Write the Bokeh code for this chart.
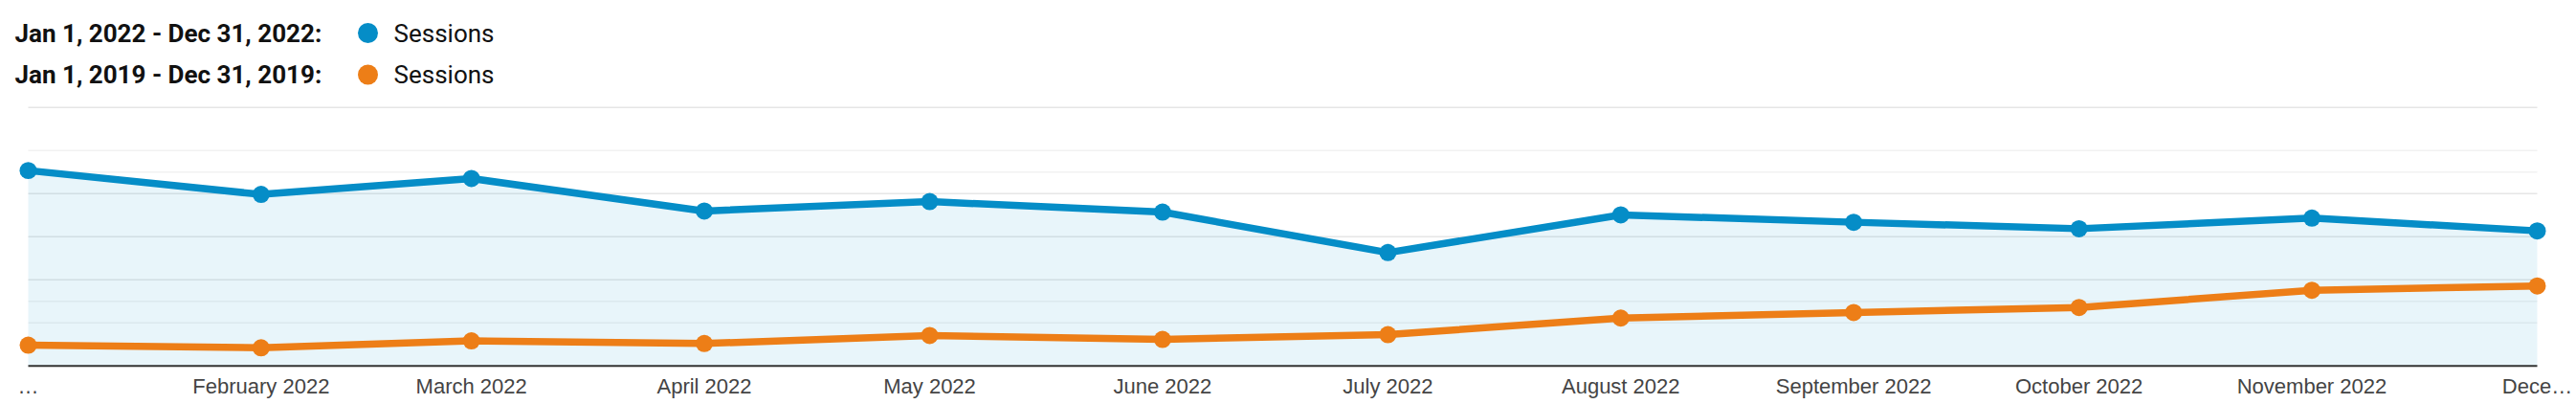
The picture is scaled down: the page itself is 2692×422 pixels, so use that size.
from datetime import datetime
from bokeh.plotting import figure
from bokeh.models import Range1d, FixedTicker, CustomJSTickFormatter
from bokeh.core.properties import value
from bokeh.embed import file_html
from bokeh.resources import INLINE

# ---------------- data ----------------
months = ["2022-01-01", "2022-02-01", "2022-03-01", "2022-04-01", "2022-05-01", "2022-06-01",
          "2022-07-01", "2022-08-01", "2022-09-01", "2022-10-01", "2022-11-01", "2022-12-01"]
tick_labels = ["\u2026", "February 2022", "March 2022", "April 2022", "May 2022", "June 2022",
               "July 2022", "August 2022", "September 2022", "October 2022", "November 2022",
               "Dece\u2026"]
sessions_2022 = [907, 796, 870, 719, 763, 714, 526, 701, 667, 637, 686, 627]
sessions_2019 = [96, 84, 116, 104, 141, 123, 145, 222, 248, 271, 351, 371]
grid_major = [400, 600, 800, 1200]
grid_minor = [200, 300, 900, 1000]
legend_ranges = ["Jan 1, 2022 - Dec 31, 2022:", "Jan 1, 2019 - Dec 31, 2019:"]
legend_metric = ["Sessions", "Sessions"]

BLUE = "#058dc7"
ORANGE = "#ed7e17"

EPOCH = datetime(1970, 1, 1)
x = [(datetime.strptime(m, "%Y-%m-%d") - EPOCH).total_seconds() * 1000.0 for m in months]

# ---------------- layout geometry ----------------
FW, FH = 2692, 384          # frame size
X_FIRST_PX, X_LAST_PX = 29, 2651
BASE_PX = 381.7             # y=0 pixel (from top of frame)
TOP_PX = 111.7              # y=1200 pixel
px_per_ms = (X_LAST_PX - X_FIRST_PX) / (x[-1] - x[0])
units_per_px = 1200.0 / (BASE_PX - TOP_PX)

x_start = x[0] - X_FIRST_PX / px_per_ms
x_end = x[-1] + (FW - X_LAST_PX) / px_per_ms
y_start = -(FH - BASE_PX) * units_per_px
y_end = BASE_PX * units_per_px


def px2x(px):
    return x_start + px / px_per_ms


def py2y(py):
    return (BASE_PX - py) * units_per_px


p = figure(frame_width=FW, frame_height=FH, x_axis_type="datetime",
           x_range=Range1d(x_start, x_end), y_range=Range1d(y_start, y_end),
           output_backend="svg", toolbar_location=None, min_border=0,
           min_border_left=0, min_border_right=0, min_border_top=0, min_border_bottom=0,
           outline_line_color=None, background_fill_color="white", border_fill_color="white")

p.yaxis.visible = False
p.grid.visible = False

ax = p.xaxis[0]
ax.ticker = FixedTicker(ticks=x)
ax.formatter = CustomJSTickFormatter(args=dict(labels=tick_labels), code="return labels[index];")
ax.axis_line_color = None
ax.major_tick_line_color = None
ax.minor_tick_line_color = None
ax.major_tick_out = 0
ax.major_tick_in = 0
ax.major_label_standoff = 6
ax.major_label_text_font = "Liberation Sans"
ax.major_label_text_font_size = "22px"
ax.major_label_text_color = "#444444"

# gridlines
p.segment(x0=[x[0]] * len(grid_minor), x1=[x[-1]] * len(grid_minor), y0=grid_minor, y1=grid_minor,
          line_color="#f2f2f2", line_width=1.5)
p.segment(x0=[x[0]] * len(grid_major), x1=[x[-1]] * len(grid_major), y0=grid_major, y1=grid_major,
          line_color="#e6e6e6", line_width=1.5)

# area under current year
p.varea(x=x, y1=[0] * len(x), y2=sessions_2022, fill_color=BLUE, fill_alpha=0.09)

# baseline
p.segment(x0=[x[0]], x1=[x[-1]], y0=[0], y1=[0], line_color="#333333", line_width=2)

# series
p.line(x, sessions_2022, line_color=BLUE, line_width=7.5, line_join="round")
p.scatter(x, sessions_2022, size=18, fill_color=BLUE, line_color=None)
p.line(x, sessions_2019, line_color=ORANGE, line_width=7.5, line_join="round")
p.scatter(x, sessions_2019, size=18, fill_color=ORANGE, line_color=None)

# legend
ly = [py2y(34), py2y(77.5)]
p.text(x=[px2x(15)] * 2, y=ly, text=legend_ranges, text_font=value("Roboto"),
       text_font_style="bold", text_font_size="26px", text_color="#111111",
       text_baseline="middle", text_align="left")
p.scatter(x=[px2x(384)] * 2, y=ly, size=21, fill_color=[BLUE, ORANGE], line_color=None)
p.text(x=[px2x(411)] * 2, y=ly, text=legend_metric, text_font=value("Roboto"),
       text_font_size="26px", text_color="#111111", text_baseline="middle", text_align="left")

open("out.html", "w").write(file_html(p, INLINE))
